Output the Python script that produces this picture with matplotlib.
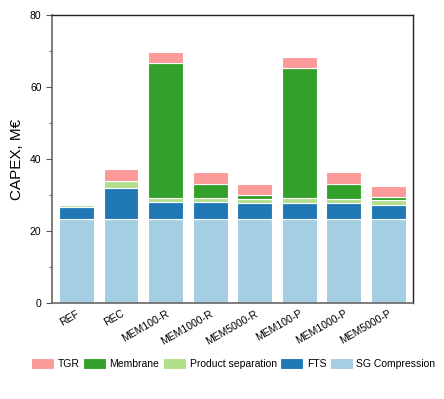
import numpy as np
import matplotlib.pyplot as plt

plt.rcParams['font.family'] = ['Liberation Sans', 'DejaVu Sans']

cases = ['REF', 'REC', 'MEM100-R', 'MEM1000-R', 'MEM5000-R', 'MEM100-P', 'MEM1000-P', 'MEM5000-P']
sg_compression = [23.3, 23.3, 23.3, 23.3, 23.3, 23.3, 23.3, 23.3]
fts = [3.3, 8.5, 4.7, 4.7, 4.6, 4.6, 4.6, 4.0]
product_sep = [0.7, 2.2, 1.2, 1.2, 1.1, 1.3, 0.9, 1.3]
membrane = [0.0, 0.0, 37.5, 3.9, 1.0, 36.2, 4.3, 0.8]
tgr = [0.0, 3.3, 3.0, 3.2, 3.0, 3.1, 3.2, 3.1]

series = [('SG Compression', sg_compression, '#a6cee3'),
          ('FTS', fts, '#1f78b4'),
          ('Product separation', product_sep, '#b2df8a'),
          ('Membrane', membrane, '#33a02c'),
          ('TGR', tgr, '#fb9a99')]

fig = plt.figure(figsize=(4.44, 3.99), dpi=100)
ax = fig.add_axes([0.117, 0.241, 0.813, 0.721])

x = np.arange(len(cases))
bottom = np.zeros(len(cases))
bars = {}
for name, vals, col in series:
    vals = np.array(vals)
    bars[name] = ax.bar(x, vals, bottom=bottom, width=0.78, color=col,
                        edgecolor='white', linewidth=0.8, label=name)
    bottom += vals

ax.set_xlim(-0.55, len(cases) - 0.45)
ax.set_ylim(0, 80)
ax.set_yticks([0, 20, 40, 60, 80])
ax.set_yticks([10, 30, 50, 70], minor=True)
ax.set_xticks(x)
ax.set_xticklabels(cases, rotation=30, ha='right', rotation_mode='anchor', fontsize=7.5)
ax.tick_params(axis='x', length=0, pad=4)
ax.tick_params(axis='y', which='major', labelsize=7.5, length=4, color='#555555')
ax.tick_params(axis='y', which='minor', length=2.5, color='#555555')
ax.set_ylabel('CAPEX, M€', fontsize=11, labelpad=4)

for s in ['left', 'bottom']:
    ax.spines[s].set_color('#666666')
    ax.spines[s].set_linewidth(1.2)
for s in ['top', 'right']:
    ax.spines[s].set_color('#222222')
    ax.spines[s].set_linewidth(1.0)

order = ['TGR', 'Membrane', 'Product separation', 'FTS', 'SG Compression']
fig.legend([bars[n] for n in order], order, loc='center', bbox_to_anchor=(0.525, 0.088),
           ncol=5, frameon=False, fontsize=7.5, handlelength=2.2, handleheight=1.2,
           columnspacing=0.35, handletextpad=0.35)

plt.savefig('out.png', dpi=100)
